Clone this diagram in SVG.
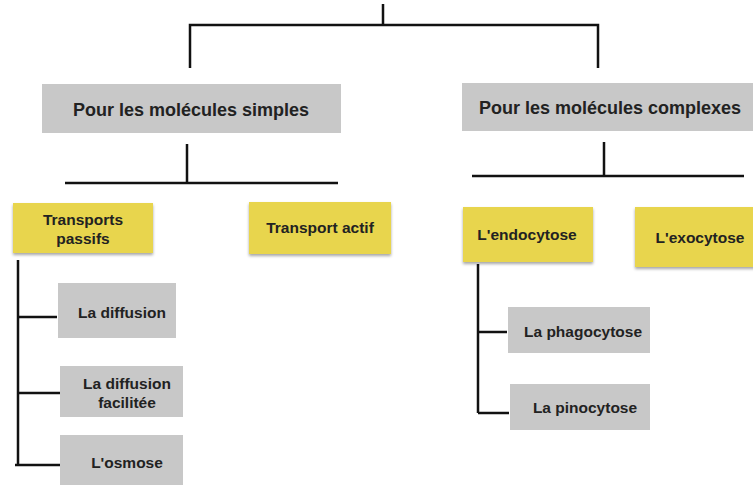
<svg xmlns="http://www.w3.org/2000/svg" width="753" height="485" viewBox="0 0 753 485">
<defs>
<filter id="sh" x="-10%" y="-10%" width="120%" height="130%">
<feDropShadow dx="0" dy="2" stdDeviation="1.5" flood-color="#000" flood-opacity="0.35"/>
</filter>
</defs>
<style>
.g{fill:#c8c8c8}
.y{fill:#e8d54e;filter:url(#sh)}
.big{font-family:"Liberation Sans",Arial,sans-serif;font-weight:bold;font-size:18px;fill:#222;text-anchor:middle}
.t{font-family:"Liberation Sans",Arial,sans-serif;font-weight:bold;font-size:15.5px;fill:#222;text-anchor:middle}
.c{stroke:#111;stroke-width:2.5;fill:none}
</style>
<rect width="753" height="485" fill="#fff"/>
<g id="connectors">
<path class="c" d="M383 4V25M190 68V25H598V68"/>
<path class="c" d="M187 144V183M65 183H338"/>
<path class="c" d="M604 142V176M472 176H744"/>
<path class="c" d="M18 260V465M18 317H57M18 393H60M15 465H60"/>
<path class="c" d="M478 264V413M478 332H507M478 413H509"/>
</g>
<g id="simples"><rect class="g" x="42" y="84" width="299" height="49"/><text class="big" x="191" y="116">Pour les molécules simples</text></g>
<g id="complexes"><rect class="g" x="462" y="83" width="295" height="48"/><text class="big" x="610" y="114">Pour les molécules complexes</text></g>
<g id="passifs"><rect class="y" x="13" y="203" width="140" height="50"/><text class="t" x="83" y="225">Transports</text><text class="t" x="83" y="244">passifs</text></g>
<g id="actif"><rect class="y" x="249" y="202" width="142" height="52"/><text class="t" x="320" y="233">Transport actif</text></g>
<g id="diffusion"><rect class="g" x="58" y="283" width="118" height="55"/><text class="t" x="122" y="318">La diffusion</text></g>
<g id="facilitee"><rect class="g" x="60" y="366" width="123" height="51"/><text class="t" x="127" y="389">La diffusion</text><text class="t" x="127" y="408">facilitée</text></g>
<g id="osmose"><rect class="g" x="60" y="435" width="123" height="55"/><text class="t" x="127" y="468">L'osmose</text></g>
<g id="endocytose"><rect class="y" x="463" y="207" width="130" height="55"/><text class="t" x="527" y="240">L'endocytose</text></g>
<g id="exocytose"><rect class="y" x="635" y="207" width="125" height="60"/><text class="t" x="700" y="243">L'exocytose</text></g>
<g id="phagocytose"><rect class="g" x="508" y="307" width="142" height="46"/><text class="t" x="583" y="337">La phagocytose</text></g>
<g id="pinocytose"><rect class="g" x="510" y="384" width="140" height="46"/><text class="t" x="585" y="413">La pinocytose</text></g>
</svg>
